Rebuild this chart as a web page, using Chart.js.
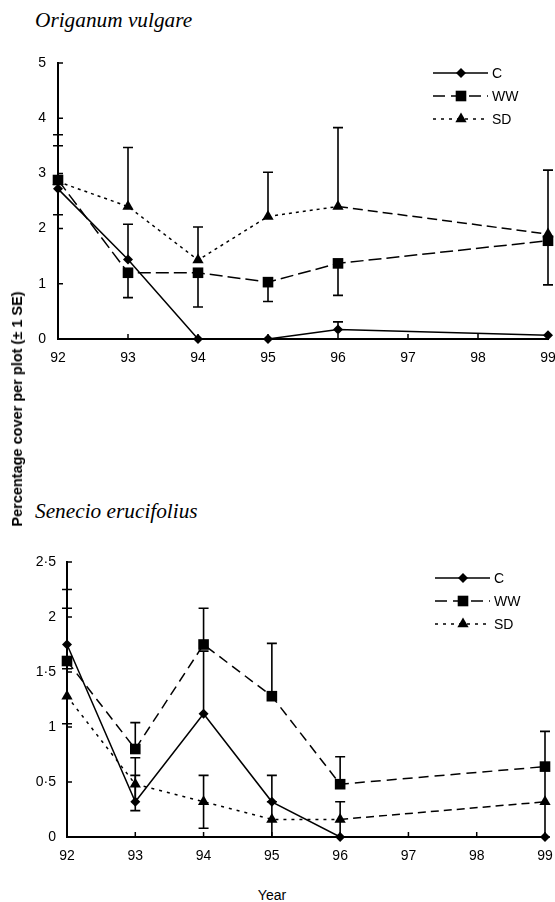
<!DOCTYPE html>
<html>
<head>
<meta charset="utf-8">
<script src="https://cdn.jsdelivr.net/npm/chart.js@4.4.0/dist/chart.umd.min.js"></script>
<style>
  html, body { margin: 0; padding: 0; background: #fff; overflow: hidden; width: 555px; height: 902px; }
  .box { position: absolute; left: 0; }
  .title { position: absolute; left: 35px; font: italic 21.3px/20px "Liberation Serif", "DejaVu Serif", serif; color: #000; white-space: nowrap; }
  .lbl { position: absolute; color: #000; white-space: nowrap; font-family: "Liberation Sans", Arial, sans-serif; }
  #ylabel { left: 17px; top: 409px; font-size: 14.5px; font-weight: bold; transform: translate(-50%, -50%) rotate(-90deg); }
  #xlabel { left: 272px; top: 895px; font-size: 14px; transform: translate(-50%, -50%); }
</style>
</head>
<body>
<div class="title" style="top:10px">Origanum vulgare</div>
<div class="box" style="top:0px"><canvas id="origanum" width="580" height="375"></canvas></div>
<div class="title" style="top:501px">Senecio erucifolius</div>
<div class="box" style="top:470px"><canvas id="senecio" width="580" height="400"></canvas></div>
<div class="lbl" id="ylabel">Percentage cover per plot (± 1 SE)</div>
<div class="lbl" id="xlabel">Year</div>
<script>
// survey years (x positions)
const years = [92, 93, 94, 95, 96, 99]

// Origanum vulgare - means and the SE whiskers that are drawn
const origC = [2.72, 1.44, 0, 0, 0.17, 0.07]
const origCPlus = [0.78, 0.64, null, null, 0.14, null]
const origWW = [2.88, 1.2, 1.2, 1.03, 1.37, 1.78]
const origWWMinus = [0.63, 0.45, 0.62, 0.35, 0.58, 0.8]
const origSD = [2.85, 2.4, 1.43, 2.22, 2.4, 1.9]
const origSDPlus = [0.85, 1.07, 0.6, 0.8, 1.43, 1.16]

// Senecio erucifolius
const senC = [1.75, 0.32, 1.12, 0.32, 0, 0]
const senCPlus = [0.5, 0.24, 0.57, 0.24, null, null]
const senWW = [1.6, 0.8, 1.75, 1.28, 0.48, 0.64]
const senWWPlus = [0.48, 0.24, 0.33, 0.48, 0.25, 0.32]
const senSD = [1.28, 0.48, 0.32, 0.16, 0.16, 0.32]
const senSDErr = [0.25, 0.24, 0.24, 0.16, 0.16, 0.32]

const fontFamily = '"Liberation Sans", Arial, sans-serif'

function points(values) {
    return years.map((yr, i) => ({x: yr, y: values[i]}))
}

// draw a marker the same way for the key
function drawMark(ctx, style, x, y, r) {
    ctx.beginPath()
    if (style === 'rect') {
        let s = r * Math.SQRT1_2
        ctx.rect(x - s, y - s, 2 * s, 2 * s)
    } else if (style === 'rectRot') {
        ctx.moveTo(x - r, y); ctx.lineTo(x, y - r); ctx.lineTo(x + r, y); ctx.lineTo(x, y + r)
    } else {
        let w = r * Math.sqrt(3) / 2
        ctx.moveTo(x, y - r); ctx.lineTo(x + w, y + r / 2); ctx.lineTo(x - w, y + r / 2)
    }
    ctx.closePath()
    ctx.fill()
}

const errorBars = {
    id: 'errorBars',
    beforeDatasetsDraw(chart) {
        const {ctx, scales: {x, y}} = chart
        ctx.save()
        ctx.strokeStyle = '#000'
        ctx.lineWidth = 1.6
        chart.data.datasets.forEach(ds => {
            ds.data.forEach((p, i) => {
                let ends = []
                if (ds.errPlus && ds.errPlus[i] != null) ends.push(p.y + ds.errPlus[i])
                if (ds.errMinus && ds.errMinus[i] != null) ends.push(p.y - ds.errMinus[i])
                let px = x.getPixelForValue(p.x)
                let py0 = y.getPixelForValue(p.y)
                ends.forEach(v => {
                    let py = y.getPixelForValue(v)
                    ctx.beginPath()
                    ctx.moveTo(px, py0); ctx.lineTo(px, py)
                    ctx.moveTo(px - 5, py); ctx.lineTo(px + 5, py)
                    ctx.stroke()
                })
            })
        })
        ctx.restore()
    }
}

// tick marks point into the plot
const innerTicks = {
    id: 'innerTicks',
    beforeDatasetsDraw(chart) {
        const {ctx, chartArea: a, scales: {x, y}} = chart
        ctx.save()
        ctx.strokeStyle = '#000'
        ctx.lineWidth = 1.5
        ctx.beginPath()
        x.ticks.forEach(t => {
            let px = x.getPixelForValue(t.value)
            ctx.moveTo(px, a.bottom); ctx.lineTo(px, a.bottom - 5)
        })
        y.ticks.forEach(t => {
            let py = y.getPixelForValue(t.value)
            ctx.moveTo(a.left, py); ctx.lineTo(a.left + 5, py)
        })
        ctx.stroke()
        ctx.restore()
    }
}

const seriesKey = {
    id: 'seriesKey',
    afterDraw(chart, args, opts) {
        const ctx = chart.ctx
        chart.data.datasets.forEach((ds, i) => {
            let y = opts.top + i * opts.gap
            ctx.save()
            ctx.strokeStyle = '#000'
            ctx.fillStyle = '#000'
            ctx.lineWidth = 1.5
            ctx.setLineDash(opts.dashes[i])
            ctx.beginPath()
            ctx.moveTo(opts.left, y); ctx.lineTo(opts.left + 55, y)
            ctx.stroke()
            ctx.setLineDash([])
            drawMark(ctx, ds.pointStyle, opts.left + 28, y, ds.pointRadius)
            ctx.font = '14px ' + fontFamily
            ctx.textBaseline = 'middle'
            ctx.fillText(ds.label, opts.left + 59, y + 1)
            ctx.restore()
        })
    }
}

function makeChart(id, sets, yMax, yStep, yFormat, layout, key) {
    let context = document.getElementById(id).getContext('2d')
    return new Chart(context, {
        type: 'line',
        data: {datasets: sets},
        options: {
            responsive: false,
            animation: false,
            devicePixelRatio: 1,
            layout: {padding: layout.padding},
            scales: {
                x: {
                    type: 'linear', min: 92, max: 99,
                    grid: {display: false, drawTicks: false},
                    border: {display: true, color: '#000', width: 2},
                    ticks: {stepSize: 1, color: '#000', padding: 11, maxRotation: 0, autoSkip: false,
                        font: {family: fontFamily, size: 14}},
                    afterFit: s => { s.height = layout.xHeight }
                },
                y: {
                    min: 0, max: yMax,
                    grid: {display: false, drawTicks: false},
                    border: {display: true, color: '#000', width: 2},
                    ticks: {stepSize: yStep, color: '#000', padding: layout.yPad,
                        font: {family: fontFamily, size: 14}, callback: yFormat},
                    afterFit: s => { s.width = layout.yWidth }
                }
            },
            plugins: {
                legend: {display: false},
                tooltip: {enabled: false},
                seriesKey: key
            }
        },
        plugins: [innerTicks, errorBars, seriesKey]
    })
}

function lineSet(label, values, style, extra) {
    let base = {
        label: label,
        data: points(values),
        borderColor: '#000',
        backgroundColor: '#000',
        borderWidth: 1.5,
        pointStyle: style.point,
        pointRadius: style.radius,
        pointBorderWidth: 0,
        tension: 0,
        clip: false
    }
    return Object.assign(base, extra)
}

const diamond = {point: 'rectRot', radius: 5}
const square = {point: 'rect', radius: 7.5}
const triangle = {point: 'triangle', radius: 6.5}

// last segment of the dotted series comes out as a dash in the original
function sdDash(dot, dash) {
    return ctx => ctx.p1DataIndex === years.length - 1 ? dash : dot
}

makeChart('origanum', [
    lineSet('C', origC, diamond, {errPlus: origCPlus}),
    lineSet('WW', origWW, square, {borderDash: [13, 5], errMinus: origWWMinus}),
    lineSet('SD', origSD, triangle, {borderDash: [3, 4], errPlus: origSDPlus,
        segment: {borderDash: sdDash([3, 4], [10, 5])}})
], 5, 1, v => v, {padding: {top: 63, right: 32, left: 0, bottom: 0}, xHeight: 36, yWidth: 58, yPad: 12},
{left: 433, top: 73, gap: 23, dashes: [[], [12, 6], [3, 5]]})

makeChart('senecio', [
    lineSet('C', senC, diamond, {errPlus: senCPlus}),
    lineSet('WW', senWW, square, {borderDash: [10, 6], errPlus: senWWPlus}),
    lineSet('SD', senSD, triangle, {borderDash: [3, 5], errPlus: senSDErr, errMinus: senSDErr,
        segment: {borderDash: sdDash([3, 5], [8, 5])}})
], 2.5, 0.5, v => String(v).replace('.', '·'),
{padding: {top: 92, right: 35, left: 0, bottom: 0}, xHeight: 33, yWidth: 67, yPad: 11},
{left: 435, top: 108, gap: 23, dashes: [[], [12, 6], [3, 5]]})
</script>
</body>
</html>
